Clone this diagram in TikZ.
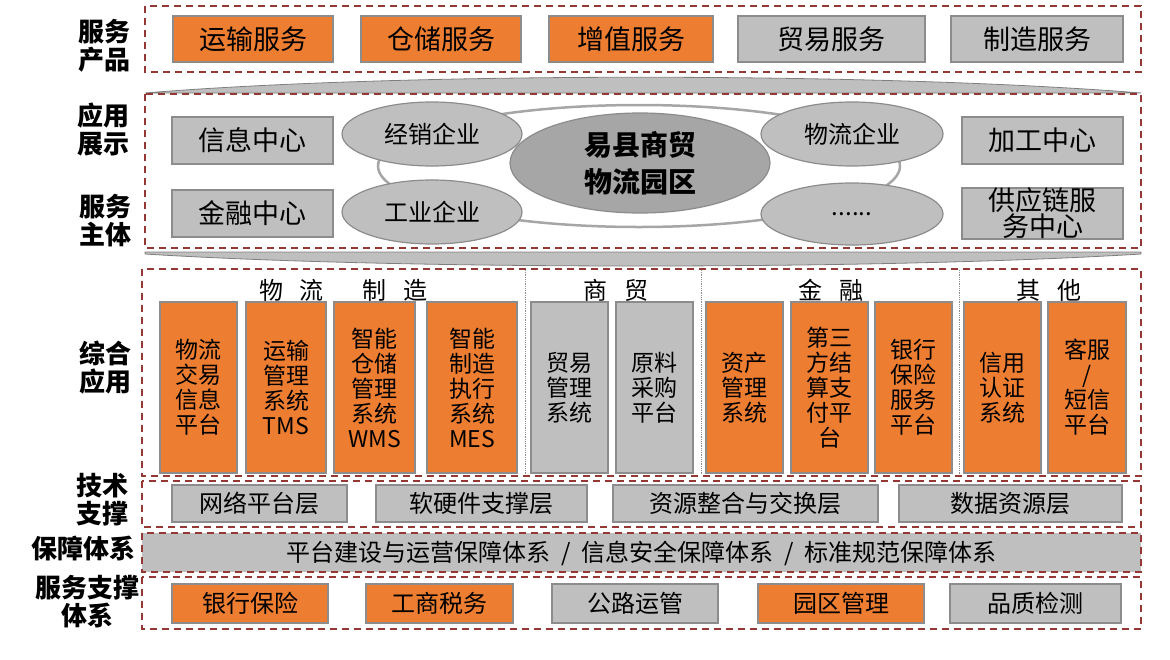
\documentclass[tikz,border=0pt]{standalone}
\usepackage{fontspec}
\setmainfont{Noto Sans CJK SC}
\usetikzlibrary{shapes.geometric}

\definecolor{boxorange}{HTML}{ED7D31}
\definecolor{boxgray}{HTML}{BFBFBF}
\definecolor{boxedge}{HTML}{8C8C8C}
\definecolor{framered}{HTML}{953735}
\definecolor{parkgray}{HTML}{A6A6A6}
\definecolor{wedgeedge}{HTML}{7F7F7F}

\tikzset{
  layerframe/.style={draw=framered, line width=1.6pt, dash pattern=on 7pt off 5pt},
  sepline/.style={draw=boxedge, line width=0.8pt, densely dotted},
  orangebox/.style={draw=boxedge, line width=1.2pt, fill=boxorange, inner sep=0pt},
  graybox/.style={draw=boxedge, line width=1.2pt, fill=boxgray, inner sep=0pt},
  firm/.style={ellipse, draw=boxedge, line width=1.2pt, fill=boxgray, inner sep=0pt},
  rowlabel/.style={align=center, font=\fontsize{26}{28}\selectfont\bfseries},
  bigtext/.style={font=\fontsize{27}{28}\selectfont},
  midtext/.style={font=\fontsize{24}{26}\selectfont},
  tallbox/.style={align=center, minimum width=77pt, minimum height=171pt,
    font=\fontsize{23}{25}\selectfont},
  wedge/.style={fill=boxgray, draw=wedgeedge, line width=0.8pt}
}

\begin{document}
\begin{tikzpicture}[x=1pt,y=-1pt]
\useasboundingbox (0,0) rectangle (1170,659);

% service products
\node[rowlabel] (lbprod) at (104,46) {服务\\产品};
\draw[layerframe] (145,6) rectangle (1141,72);
\node[orangebox, bigtext, minimum width=160pt, minimum height=46pt] (yunshu) at (253,39) {运输服务};
\node[orangebox, bigtext, minimum width=160pt, minimum height=46pt] (cangchu) at (441,39) {仓储服务};
\node[orangebox, bigtext, minimum width=164pt, minimum height=46pt] (zengzhi) at (631,39) {增值服务};
\node[graybox, bigtext, minimum width=187pt, minimum height=46pt] (maoyi) at (831.5,39) {贸易服务};
\node[graybox, bigtext, minimum width=172pt, minimum height=46pt] (zhizao) at (1037,39) {制造服务};

% upper wedge
\draw[wedge] (145,93) .. controls (400,72) and (880,72) .. (1141,93) -- cycle;

% application and service bodies
\node[rowlabel] (lbshow) at (103,130) {应用\\展示};
\node[rowlabel] (lbbody) at (105,220.5) {服务\\主体};
\draw[layerframe] (145,94) rectangle (1141,248);
\node[graybox, bigtext, minimum width=161pt, minimum height=47pt] (xinxi) at (252.5,140.5) {信息中心};
\node[graybox, bigtext, minimum width=161pt, minimum height=47pt] (jinrong) at (252.5,213.5) {金融中心};
\node[graybox, bigtext, minimum width=161pt, minimum height=47pt] (jiagong) at (1042.5,140.5) {加工中心};
\node[graybox, minimum width=161pt, minimum height=47pt, align=center,
  font=\fontsize{27}{26}\selectfont] (gongying) at (1042.5,213.5) {供应链服\\务中心};
\node[ellipse, draw=parkgray, line width=2.5pt, fill=white,
  minimum width=522pt, minimum height=122pt] (ring) at (639,166) {};
\node[firm, midtext, minimum width=180pt, minimum height=64pt] (jingxiao) at (432,134) {经销企业};
\node[firm, midtext, minimum width=180pt, minimum height=64pt] (gongye) at (432,212) {工业企业};
\node[firm, midtext, minimum width=182pt, minimum height=64pt] (wuliu) at (852,134) {物流企业};
\node[firm, midtext, minimum width=182pt, minimum height=62pt] (more) at (852,214) {......};
\node[firm, fill=parkgray, minimum width=260pt, minimum height=100pt, align=center,
  font=\fontsize{28}{37}\selectfont\bfseries] (park) at (640,163) {易县商贸\\物流园区};

% lower wedge
\draw[wedge] (145,252) -- (1141,252) -- (1141,254) .. controls (880,270) and (400,270) .. (145,254) -- cycle;

% integrated applications
\node[rowlabel] (lbapp) at (105,368) {综合\\应用};
\draw[layerframe] (142,269) rectangle (1141,476);
\draw[sepline] (525,270) -- (525,475);
\draw[sepline] (701,270) -- (701,475);
\draw[sepline] (959,270) -- (959,475);
\node[midtext] (catwl) at (343,290) {物\hspace{0.7em}流\hspace{1.6em}制\hspace{0.7em}造};
\node[midtext] (catmy) at (616,290) {商\hspace{0.7em}贸};
\node[midtext] (catjr) at (831,290) {金\hspace{0.7em}融};
\node[midtext] (catqt) at (1049,290) {其\hspace{0.7em}他};
\node[orangebox, tallbox] (sysa) at (198.5,387.5) {物流\\交易\\信息\\平台};
\node[orangebox, tallbox, minimum width=80pt] (sysb) at (286,387.5) {运输\\管理\\系统\\TMS};
\node[orangebox, tallbox, minimum width=81pt] (sysc) at (374.5,387.5) {智能\\仓储\\管理\\系统\\WMS};
\node[orangebox, tallbox, minimum width=90pt] (sysd) at (472,387.5) {智能\\制造\\执行\\系统\\MES};
\node[graybox, tallbox] (syse) at (569.5,387.5) {贸易\\管理\\系统};
\node[graybox, tallbox] (sysf) at (654.5,387.5) {原料\\采购\\平台};
\node[orangebox, tallbox] (sysg) at (744.5,387.5) {资产\\管理\\系统};
\node[orangebox, tallbox] (sysh) at (829.5,387.5) {第三\\方结\\算支\\付平\\台};
\node[orangebox, tallbox] (sysi) at (913.5,387.5) {银行\\保险\\服务\\平台};
\node[orangebox, tallbox] (sysj) at (1002.5,387.5) {信用\\认证\\系统};
\node[orangebox, tallbox, minimum width=78pt] (sysk) at (1087,387.5) {客服\\/\\短信\\平台};

% technical support
\node[rowlabel] (lbtech) at (102,500) {技术\\支撑};
\draw[layerframe] (142,481) rectangle (1141,527);
\node[graybox, midtext, minimum width=175pt, minimum height=37pt] (wangluo) at (259.5,503.5) {网络平台层};
\node[graybox, midtext, minimum width=211pt, minimum height=37pt] (ruanying) at (481.5,503.5) {软硬件支撑层};
\node[graybox, midtext, minimum width=265pt, minimum height=37pt] (ziyuan) at (745.5,503.5) {资源整合与交换层};
\node[graybox, midtext, minimum width=223pt, minimum height=37pt] (shuju) at (1010.5,503.5) {数据资源层};

% guarantee system
\node[rowlabel] (lbguar) at (83,548) {保障体系};
\draw[layerframe, fill=boxgray] (142,533) rectangle (1141,572);
\node[midtext] (guarantee) at (642,553) {平台建设与运营保障体系\hspace{0.45em}/\hspace{0.45em}信息安全保障体系\hspace{0.45em}/\hspace{0.45em}标准规范保障体系};

% service support system
\node[rowlabel] (lbsupp) at (87,602) {服务支撑\\体系};
\draw[layerframe] (142,577) rectangle (1141,629);
\node[orangebox, midtext, minimum width=156pt, minimum height=39pt] (yinhang) at (250,603.5) {银行保险};
\node[orangebox, midtext, minimum width=147pt, minimum height=39pt] (gongshang) at (439.5,603.5) {工商税务};
\node[graybox, midtext, minimum width=166pt, minimum height=39pt] (gonglu) at (635,603.5) {公路运管};
\node[orangebox, midtext, minimum width=166pt, minimum height=39pt] (yuanqu) at (841,603.5) {园区管理};
\node[graybox, midtext, minimum width=171pt, minimum height=39pt] (pinzhi) at (1035.5,603.5) {品质检测};

\end{tikzpicture}
\end{document}
